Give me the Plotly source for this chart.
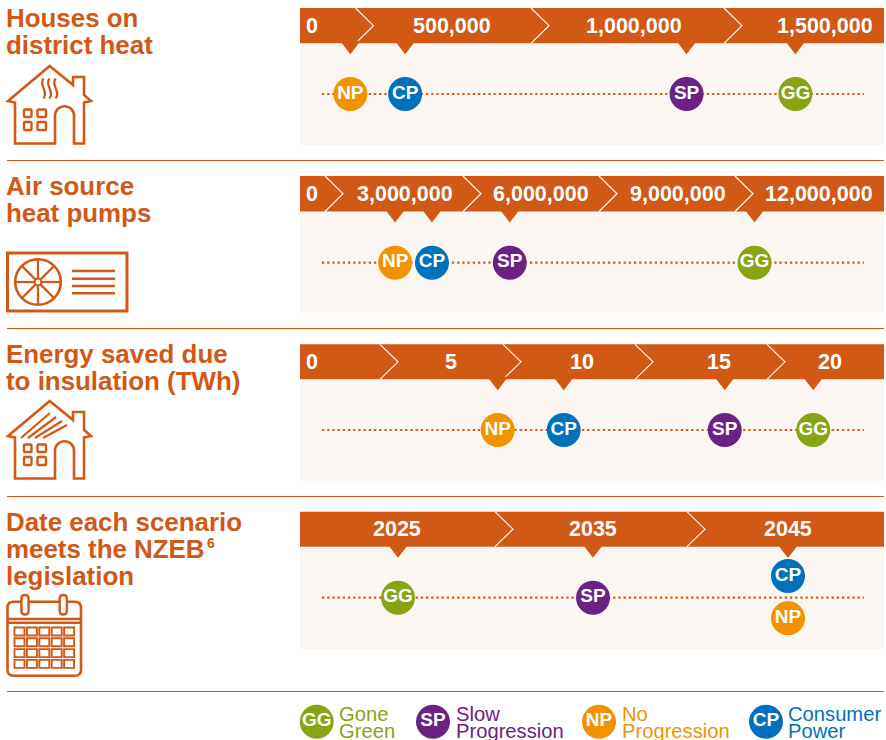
import math
import plotly.graph_objects as go

# ---------- data ----------
scenarios = ["GG", "SP", "NP", "CP"]
scenario_names = [["Gone", "Green"], ["Slow", "Progression"], ["No", "Progression"], ["Consumer", "Power"]]

heat_values = [1185000, 903000, 32000, 174000]
pump_values = [9430000, 4050000, 1530000, 2340000]
insulation_values = [16.75, 13.4, 4.8, 7.3]
nzeb_years = [2025, 2035, 2045, 2045]

heat_ticks = ["0", "500,000", "1,000,000", "1,500,000"]
pump_ticks = ["0", "3,000,000", "6,000,000", "9,000,000", "12,000,000"]
insulation_ticks = ["0", "5", "10", "15", "20"]
nzeb_ticks = ["2025", "2035", "2045"]

titles = [
    ["Houses on", "district heat"],
    ["Air source", "heat pumps"],
    ["Energy saved due", "to insulation (TWh)"],
    ["Date each scenario", "meets the NZEB", "legislation"],
]

# ---------- styling / layout constants ----------
ORANGE = "#D15815"
PANEL_BG = "#FBF6F2"
COLORS = {"GG": "#88A414", "SP": "#6A2383", "NP": "#F39200", "CP": "#0071BC"}
FONT = "Liberation Sans"
W, H = 886, 740
LEFT, RIGHT = 300, 884
DOT_L, DOT_R = 322, 864

panels = [
    dict(values=heat_values, ticks=heat_ticks, band=(8, 43.3), bottom=145, line=94, title_y=18,
         scale=(500000, 531, 1000000, 724), chev=[355.5, 531, 724],
         lab=[("l", 305), ("r", 492), ("r", 683), ("r", 874)]),
    dict(values=pump_values, ticks=pump_ticks, band=(176, 211.5), bottom=312.7, line=262.7, title_y=186,
         scale=(3000000, 462, 9000000, 735), chev=[325, 463, 599, 735],
         lab=[("l", 305), ("r", 454), ("r", 590), ("r", 727), ("r", 874)]),
    dict(values=insulation_values, ticks=insulation_ticks, band=(344.3, 379.3), bottom=480.7, line=430, title_y=354,
         scale=(5, 503, 15, 767), chev=[380, 503, 635, 767],
         lab=[("l", 305), ("c", 451), ("c", 582), ("c", 719), ("c", 830)]),
    dict(values=nzeb_years, ticks=nzeb_ticks, band=(511.7, 546.7), bottom=649, line=597.7, title_y=522,
         scale=(2025, 398, 2045, 788), chev=[495, 687],
         lab=[("c", 397), ("c", 593), ("c", 788)]),
]
separators = [160.5, 328.5, 496.5, 691.5]

fig = go.Figure()
shapes, annos = [], []


def add_text(x, y, text, size, color, bold=True, anchor="left"):
    annos.append(dict(x=x, y=y, xref="x", yref="y", text=text, showarrow=False, xanchor=anchor,
                      yanchor="middle", align=anchor, borderpad=0,
                      font=dict(family=FONT, size=size, color=color, weight="bold" if bold else "normal")))


def stroke(path, width=2.6, color=ORANGE, fill=None):
    s = dict(type="path", path=path, xref="x", yref="y", layer="below", line=dict(color=color, width=width))
    if fill:
        s["fillcolor"] = fill
    shapes.append(s)


def rect(x0, y0, x1, y1, fill):
    shapes.append(dict(type="rect", x0=x0, x1=x1, y0=y0, y1=y1, xref="x", yref="y", layer="below",
                       fillcolor=fill, line=dict(width=0)))


def round_rect(x0, y0, x1, y1, r):
    return (f"M{x0+r},{y0} L{x1-r},{y0} Q{x1},{y0} {x1},{y0+r} L{x1},{y1-r} Q{x1},{y1} {x1-r},{y1} "
            f"L{x0+r},{y1} Q{x0},{y1} {x0},{y1-r} L{x0},{y0+r} Q{x0},{y0} {x0+r},{y0} Z")


def circle_path(cx, cy, r):
    k = 0.5523 * r
    return (f"M{cx+r},{cy} C{cx+r},{cy+k} {cx+k},{cy+r} {cx},{cy+r} C{cx-k},{cy+r} {cx-r},{cy+k} {cx-r},{cy} "
            f"C{cx-r},{cy-k} {cx-k},{cy-r} {cx},{cy-r} C{cx+k},{cy-r} {cx+r},{cy-k} {cx+r},{cy} Z")


def house(dy):
    stroke(f"M49.7,{66+dy} L73,{85+dy} L73,{77+dy} L84,{77+dy} L84,{95+dy} L91,{101+dy} L84,{102.5+dy} "
           f"L84,{143.5+dy} L74,{143.5+dy} L74,{116+dy} C74,{103+dy} 55,{103+dy} 55,{116+dy} L55,{143.5+dy} "
           f"L15,{143.5+dy} L15,{102.5+dy} L8,{101+dy} Z")
    for x0, x1 in ((24, 31.5), (37.5, 46)):
        for y0, y1 in ((109.5, 117), (122, 130)):
            stroke(round_rect(x0, y0 + dy, x1, y1 + dy, 1), 2.4)


# ---------- panels ----------
for i, p in enumerate(panels):
    v0, px0, v1, px1 = p["scale"]
    slope = (v1 - v0) / (px1 - px0)
    p["range"] = [v0 + (0 - px0) * slope, v0 + (W - px0) * slope]
    top, bot = p["band"]

    rect(LEFT, bot, RIGHT, p["bottom"], PANEL_BG)
    rect(LEFT, top, RIGHT, bot, ORANGE)
    for c in p["chev"]:
        stroke(f"M{c},{top} L{c+18},{(top+bot)/2} L{c},{bot}", 1.1, "#FFFFFF")
    shapes.append(dict(type="line", x0=DOT_L, x1=DOT_R, y0=p["line"], y1=p["line"], xref="x", yref="y",
                       layer="below", line=dict(color=ORANGE, width=2.2, dash="2.2px,3px")))

    for (kind, x), t in zip(p["lab"], p["ticks"]):
        add_text(x, (top + bot) / 2, t, 21.5, "#FFFFFF",
                 anchor={"l": "left", "r": "right", "c": "center"}[kind])

    for j, line in enumerate(titles[i]):
        add_text(5, p["title_y"] + j * 27, line, 25.9, ORANGE)

    xname = f"x{i + 2}"
    offsets = {"CP": -21.7, "NP": 20.6} if i == 3 else {}
    fig.add_trace(go.Scatter(
        x=p["values"], y=[bot + 2] * len(p["values"]), xaxis=xname, yaxis="y", mode="markers",
        marker=dict(symbol="triangle-down", size=18, color=ORANGE, line=dict(width=0)),
        hoverinfo="skip", showlegend=False))
    fig.add_trace(go.Scatter(
        x=p["values"], y=[p["line"] + offsets.get(s, 0) for s in scenarios], xaxis=xname, yaxis="y",
        mode="markers+text", text=scenarios, textposition="middle center",
        textfont=dict(family=FONT, size=19, color="#FFFFFF", weight="bold"),
        marker=dict(size=34, color=[COLORS[s] for s in scenarios], line=dict(width=0)),
        showlegend=False))

add_text(206, 542.5, "6", 14, ORANGE)

for y in separators:
    shapes.append(dict(type="line", x0=7, x1=884, y0=y, y1=y, xref="x", yref="y", layer="below",
                       line=dict(color=ORANGE, width=1)))

# ---------- icons ----------
house(0)
for x in (43.5, 49.5, 55.7):
    stroke(f"M{x},78.5 C{x-5.5},85 {x+5.5},91 {x},98.5", 2.2)

stroke("M7.5,253 L127,253 L127,311 L7.5,311 Z", 3)
stroke(circle_path(38, 282, 22.8), 2.6)
stroke(circle_path(38, 282, 3.4), 2)
for k in range(8):
    a = k * math.pi / 4
    stroke(f"M{38+3.4*math.cos(a):.2f},{282+3.4*math.sin(a):.2f} L{38+22.8*math.cos(a):.2f},{282+22.8*math.sin(a):.2f}", 2.2)
for y in (271, 278.7, 286, 293.3):
    stroke(f"M72,{y} L115,{y}", 2.4)

house(335)
for x0, y0, x1, y1 in ((21, 438, 50, 413), (28, 438, 56, 417), (35, 438, 62, 421), (43, 438, 67, 425)):
    stroke(f"M{x0},{y0} L{x1},{y1}", 2.2)

stroke(round_rect(7.5, 601.7, 81, 675.7, 6), 2.6)
stroke("M7.5,619 L81,619", 2.4)
stroke("M7.5,622.8 L81,622.8", 2.4)
for cx in (25, 63.3):
    stroke(round_rect(cx - 3.6, 595, cx + 3.6, 614.5, 3.6), 2.4, fill="#FFFFFF")
for c in range(5):
    for r in range(4):
        x0 = 14.5 + c * 12.4
        y0 = 627.5 + r * 10.8
        stroke(f"M{x0},{y0} L{x0+10},{y0} L{x0+10},{y0+8} L{x0},{y0+8} Z", 1.9)

# ---------- scenario key ----------
key_x = [316.7, 433, 599, 766]
key_text_x = [338, 454.5, 621, 787]
fig.add_trace(go.Scatter(
    x=key_x, y=[721.7] * 4, xaxis="x", yaxis="y", mode="markers+text", text=scenarios,
    textposition="middle center", textfont=dict(family=FONT, size=19, color="#FFFFFF", weight="bold"),
    marker=dict(size=34, color=[COLORS[s] for s in scenarios], line=dict(width=0)),
    hoverinfo="skip", showlegend=False))
for s, names, tx in zip(scenarios, scenario_names, key_text_x):
    add_text(tx, 714, names[0], 20.2, COLORS[s], bold=False)
    add_text(tx, 731, names[1], 20.2, COLORS[s], bold=False)

# ---------- layout ----------
layout = dict(
    width=W, height=H, autosize=False, margin=dict(l=0, r=0, t=0, b=0),
    paper_bgcolor="#FFFFFF", plot_bgcolor="rgba(0,0,0,0)", showlegend=False,
    shapes=shapes, annotations=annos, font=dict(family=FONT),
    yaxis=dict(range=[H, 0], visible=False, fixedrange=True, domain=[0, 1]),
    xaxis=dict(range=[0, W], visible=False, fixedrange=True, domain=[0, 1], anchor="y"),
)
for i, p in enumerate(panels):
    layout[f"xaxis{i+2}"] = dict(range=p["range"], visible=False, fixedrange=True, domain=[0, 1], anchor="y")
fig.update_layout(**layout)

fig.write_html("out.html", config={"displayModeBar": False},
               post_script="document.body.style.margin='0';document.documentElement.style.overflow='hidden';")
